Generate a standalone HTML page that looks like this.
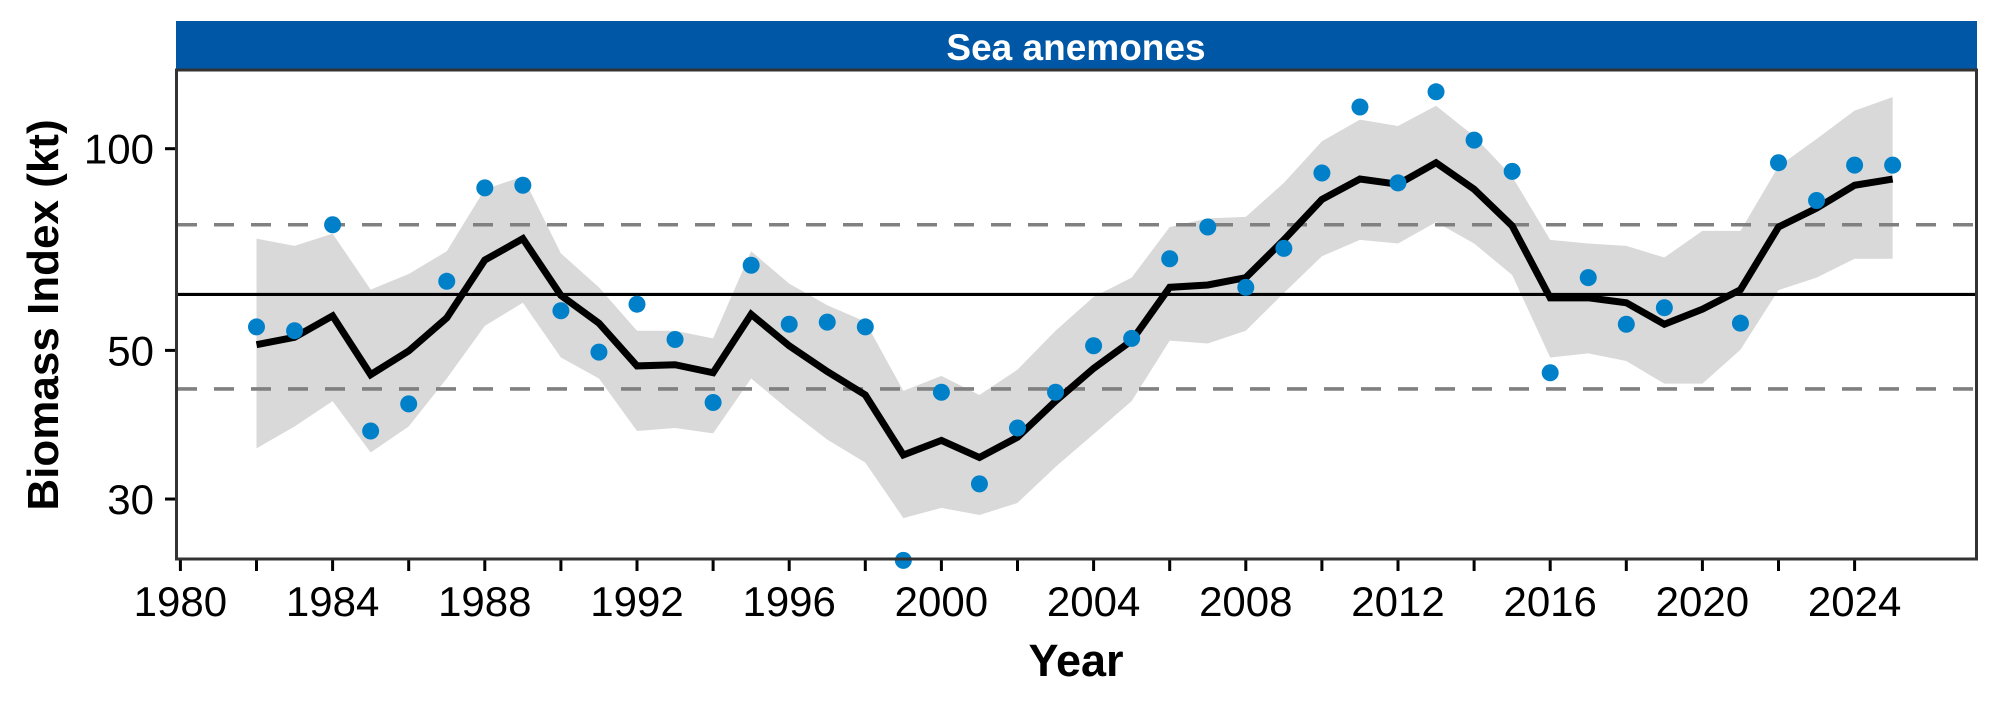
<!DOCTYPE html>
<html><head><meta charset="utf-8"><style>
html,body{margin:0;padding:0;background:#fff;}
svg{display:block;font-family:"Liberation Sans",Arial,sans-serif;}
</style></head><body>
<svg id="chart" width="1996" height="708" viewBox="0 0 1996 708">
<rect x="176" y="21" width="1801" height="49" fill="#0057a5"/>
<text x="1076" y="60" font-size="37" font-weight="bold" fill="#fff" text-anchor="middle">Sea anemones</text>
<g id="plot"></g>
<rect x="176.5" y="70" width="1800" height="489" fill="none" stroke="#333" stroke-width="3"/>
<text transform="translate(58,315) rotate(-90)" font-size="44" font-weight="bold" text-anchor="middle">Biomass Index (kt)</text>
<text x="1076" y="676" font-size="45" font-weight="bold" text-anchor="middle">Year</text>
</svg>
<script>
const years=[1982,1983,1984,1985,1986,1987,1988,1989,1990,1991,1992,1993,1994,1995,1996,1997,1998,1999,2000,2001,2002,2003,2004,2005,2006,2007,2008,2009,2010,2011,2012,2013,2014,2015,2016,2017,2018,2019,2020,2021,2022,2023,2024,2025];
const observed=[54.2,53.5,77,37.9,41.6,63.4,87.4,88.2,57.3,49.7,58.6,51.9,41.8,67,54.7,55.1,54.2,24.3,43.3,31.6,38.3,43.3,50.8,52.1,68.5,76.4,62.1,71,92,115.4,88.9,121.6,103,92.5,46.3,64.2,54.7,57.9,null,54.9,95.3,83.7,94.5,94.5];
const fitted=[51.0,52.3,56.3,46.0,49.9,55.9,68.2,73.4,60.4,54.9,47.4,47.6,46.3,56.6,50.8,46.5,42.9,34.9,36.7,34.6,37.1,42.0,47.0,51.7,62.1,62.6,64.2,73.1,84.0,90.1,88.5,95.3,87.0,76.7,59.9,59.9,58.9,54.7,57.6,61.6,76.4,81.5,88.2,90.1];
const upper=[73.4,71.6,74.7,61.6,65.0,70.3,87.0,90.9,69.8,62.1,53.5,53.5,52.1,70.3,62.9,58.4,55.2,43.5,45.8,42.9,46.8,53.5,60.1,64.2,76.4,78.7,79.1,88.9,102.6,110.5,108.1,115.9,104.4,90.9,73.1,72.2,71.6,68.8,75.4,75.4,94.1,103.4,114.0,119.4];
const lower=[35.7,38.5,42.0,35.2,38.5,45.4,54.4,58.9,48.8,45.4,37.9,38.3,37.6,45.4,40.7,36.8,34.0,28.1,29.1,28.4,29.6,33.5,37.5,42.0,51.7,51.2,53.5,60.9,69.1,73.1,72.2,77.7,72.2,64.8,48.8,49.5,48.2,44.6,44.6,50.1,61.5,64.2,68.5,68.5];
const meanLine=60.6;
const upperRef=77;
const lowerRef=43.8;
const xTicks=[1980,1982,1984,1986,1988,1990,1992,1994,1996,1998,2000,2002,2004,2006,2008,2010,2012,2014,2016,2018,2020,2022,2024];
const xLabels=[1980,1984,1988,1992,1996,2000,2004,2008,2012,2016,2020,2024];
const yTicks=[30,50,100];

const NS="http://www.w3.org/2000/svg";
const X=v=>180.4+(v-1980)*38.05;
const Y=v=>148.7-(Math.log10(v)-2)*670;
const g=document.getElementById('plot');
function mk(t,a){const e=document.createElementNS(NS,t);for(const k in a)e.setAttribute(k,a[k]);g.appendChild(e);return e;}

let pts=years.map((y,i)=>X(y)+','+Y(upper[i]));
for(let i=years.length-1;i>=0;i--)pts.push(X(years[i])+','+Y(lower[i]));
const band=mk('polygon',{points:pts.join(' '),fill:'#d9d9d9'});



[[upperRef,'upper-reference-line'],[lowerRef,'lower-reference-line']].forEach(([v,n])=>{
 const l=mk('line',{x1:177,x2:1976,y1:Y(v),y2:Y(v),stroke:'#808080','stroke-width':3.6,'stroke-dasharray':'20,17'});
 
 
});
const ml=mk('line',{x1:177,x2:1976,y1:Y(meanLine),y2:Y(meanLine),stroke:'#000','stroke-width':3.2});



const fl=mk('polyline',{points:years.map((y,i)=>X(y)+','+Y(fitted[i])).join(' '),fill:'none',stroke:'#000','stroke-width':7,'stroke-linejoin':'miter'});



years.forEach((y,i)=>{
 if(observed[i]==null)return;
 const c=mk('circle',{cx:X(y),cy:Y(observed[i]),r:8.5,fill:'#0080c8'});
 
 
});

xTicks.forEach(t=>{
 const l=mk('line',{x1:X(t),x2:X(t),y1:560,y2:571,stroke:'#000','stroke-width':3});
 
 
});
xLabels.forEach(t=>{
 const tx=mk('text',{x:X(t),y:616,'font-size':42,'text-anchor':'middle',fill:'#000'});
 tx.textContent=t;
 
 
});
yTicks.forEach(t=>{
 const l=mk('line',{x1:165,x2:176,y1:Y(t),y2:Y(t),stroke:'#000','stroke-width':3});
 
 
 const tx=mk('text',{x:154,y:Y(t)+15,'font-size':42,'text-anchor':'end',fill:'#000'});
 tx.textContent=t;
 
 
});
</script>
</body></html>
